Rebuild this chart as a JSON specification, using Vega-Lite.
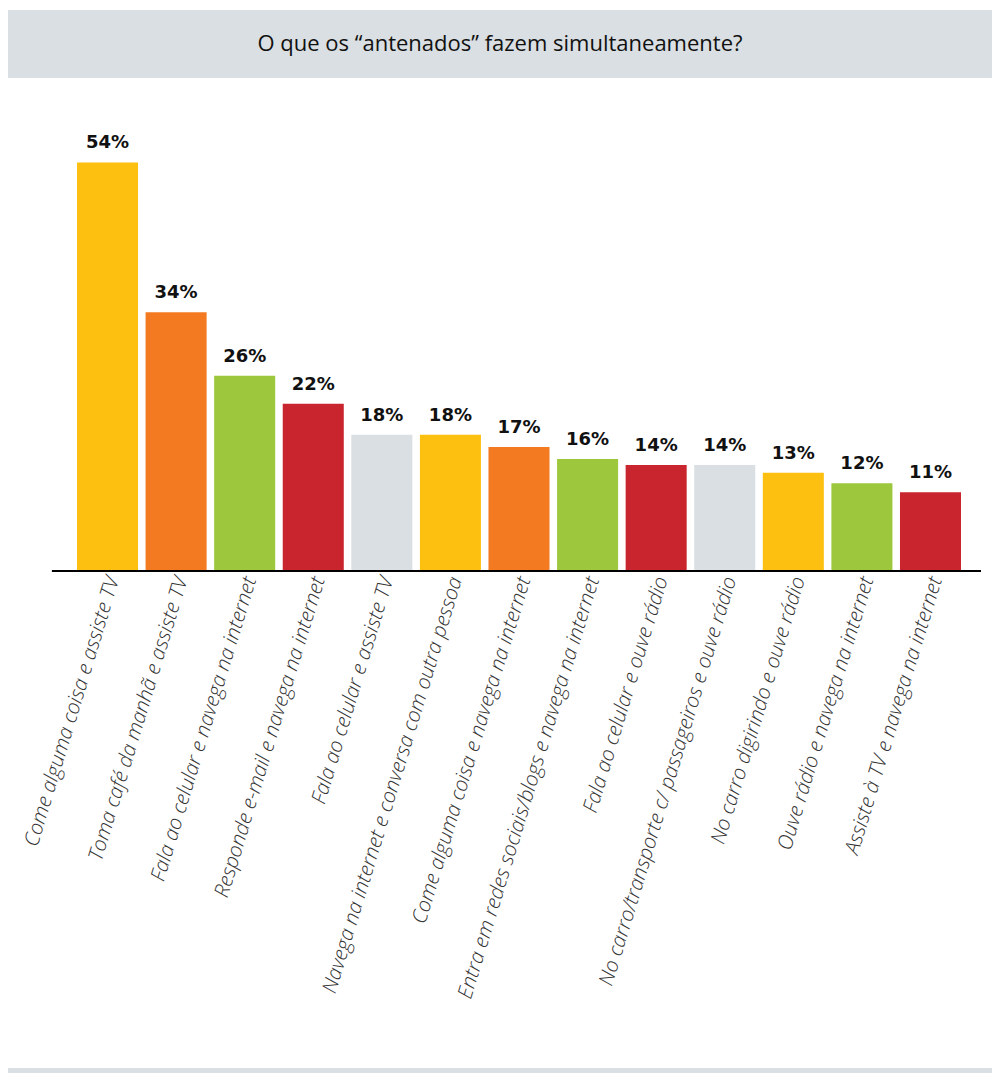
{
  "$schema": "https://vega.github.io/schema/vega-lite/v6.json",
  "padding": {"left": 8, "top": 10, "right": 0, "bottom": 0},
  "background": "white",
  "config": {"view": {"stroke": null}},
  "bounds": "full",
  "spacing": 39,
  "vconcat": [
    {
      "width": 984,
      "height": 68,
      "view": {"fill": "#d9dfe2", "stroke": null},
      "data": {"values": [{"titulo": "O que os “antenados” fazem simultaneamente?"}]},
      "mark": {"type": "text", "font": "Open Sans", "fontSize": 22, "color": "#111111"},
      "encoding": {"text": {"field": "titulo"}}
    },
    {
      "bounds": "full",
      "spacing": 67,
      "vconcat": [
        {
          "width": 984,
          "height": 454,
          "data": {
            "values": [
              {"atividade": "Come alguma coisa e assiste TV", "altura": 54.0, "rotulo": "54%"},
              {"atividade": "Toma café da manhã e assiste TV", "altura": 34.2, "rotulo": "34%"},
              {"atividade": "Fala ao celular e navega na internet", "altura": 25.8, "rotulo": "26%"},
              {"atividade": "Responde e-mail e navega na internet", "altura": 22.1, "rotulo": "22%"},
              {"atividade": "Fala ao celular e assiste TV", "altura": 18.0, "rotulo": "18%"},
              {"atividade": "Navega na internet e conversa com outra pessoa", "altura": 18.0, "rotulo": "18%"},
              {"atividade": "Come alguma coisa e navega na internet", "altura": 16.4, "rotulo": "17%"},
              {"atividade": "Entra em redes sociais/blogs e navega na internet", "altura": 14.8, "rotulo": "16%"},
              {"atividade": "Fala ao celular e ouve rádio", "altura": 14.0, "rotulo": "14%"},
              {"atividade": "No carro/transporte c/ passageiros e ouve rádio", "altura": 14.0, "rotulo": "14%"},
              {"atividade": "No carro digirindo e ouve rádio", "altura": 13.0, "rotulo": "13%"},
              {"atividade": "Ouve rádio e navega na internet", "altura": 11.6, "rotulo": "12%"},
              {"atividade": "Assiste à TV e navega na internet", "altura": 10.4, "rotulo": "11%"}
            ]
          },
          "encoding": {
            "x": {
              "field": "atividade",
              "type": "nominal",
              "sort": null,
              "scale": {"paddingInner": 0.11, "paddingOuter": 0.729, "align": 0.69},
              "axis": {
                "title": null,
                "domain": false,
                "ticks": false,
                "labelAngle": -73,
                "labelPadding": 6,
                "labelOffset": 6,
                "labelLimit": 800,
                "labelOverlap": false,
                "labelFont": "Open Sans",
                "labelFontStyle": "italic",
                "labelFontWeight": 300,
                "labelFontSize": 20.5,
                "labelColor": "#333333"
              }
            }
          },
          "layer": [
            {
              "mark": {"type": "bar"},
              "encoding": {
                "y": {"field": "altura", "type": "quantitative", "scale": {"domain": [0, 60]}, "axis": null},
                "color": {
                  "field": "atividade",
                  "type": "nominal",
                  "legend": null,
                  "scale": {
                    "domain": [
                      "Come alguma coisa e assiste TV",
                      "Toma café da manhã e assiste TV",
                      "Fala ao celular e navega na internet",
                      "Responde e-mail e navega na internet",
                      "Fala ao celular e assiste TV",
                      "Navega na internet e conversa com outra pessoa",
                      "Come alguma coisa e navega na internet",
                      "Entra em redes sociais/blogs e navega na internet",
                      "Fala ao celular e ouve rádio",
                      "No carro/transporte c/ passageiros e ouve rádio",
                      "No carro digirindo e ouve rádio",
                      "Ouve rádio e navega na internet",
                      "Assiste à TV e navega na internet"
                    ],
                    "range": ["#fec010", "#f47a21", "#9dc83d", "#c9252f", "#d9dfe2", "#fec010", "#f47a21", "#9dc83d", "#c9252f", "#d9dfe2", "#fec010", "#9dc83d", "#c9252f"]
                  }
                }
              }
            },
            {
              "mark": {"type": "text", "font": "DejaVu Sans", "fontWeight": "bold", "fontSize": 18, "color": "#111111", "baseline": "alphabetic", "dy": -14},
              "encoding": {
                "y": {"field": "altura", "type": "quantitative"},
                "text": {"field": "rotulo"}
              }
            },
            {
              "mark": {"type": "rule", "color": "#000000", "strokeWidth": 2, "xOffset": -25, "x2Offset": 20},
              "encoding": {
                "y": {"datum": 0, "type": "quantitative"},
                "x": {"datum": "Come alguma coisa e assiste TV", "bandPosition": 0},
                "x2": {"datum": "Assiste à TV e navega na internet", "bandPosition": 1}
              }
            }
          ]
        },
        {
          "width": 984,
          "height": 5,
          "view": {"fill": "#d9dfe2", "stroke": null},
          "data": {"values": [{"faixa": 1}]},
          "mark": {"type": "rect", "color": "#d9dfe2"},
          "encoding": {}
        }
      ]
    }
  ]
}
